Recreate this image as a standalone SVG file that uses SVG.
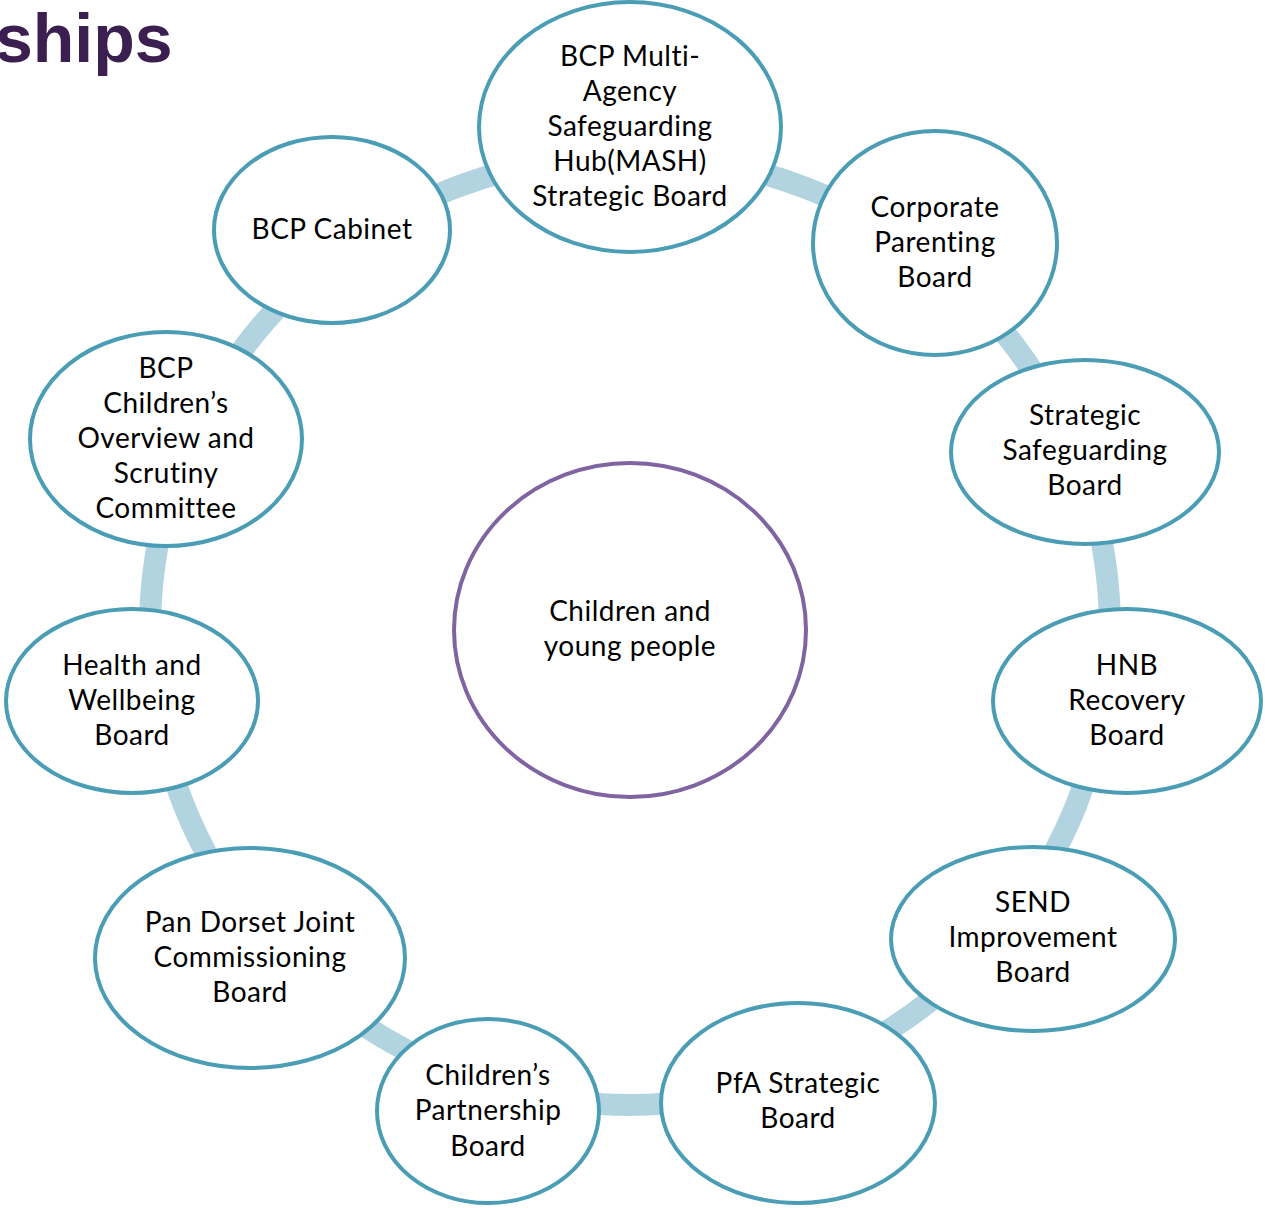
<svg xmlns="http://www.w3.org/2000/svg" width="1265" height="1208" viewBox="0 0 1265 1208">
<style>
.n{fill:#fff;stroke:#4a9db4;stroke-width:4}
.c{fill:#fff;stroke:#8064a2;stroke-width:4}
.t{font-family:Lato,"Liberation Sans",sans-serif;font-size:28px;letter-spacing:0.5px;fill:#000;text-anchor:middle}
.ring{fill:none;stroke:#b1d4e0;stroke-width:22}
.title{font-family:"Liberation Sans",Arial,sans-serif;font-weight:bold;font-size:68px;fill:#3b1f50}
</style>
<rect width="1265" height="1208" fill="#fff"/>
<text class="title" x="-5" y="62">ships</text>
<g id="connectors">
<ellipse class="ring" cx="630" cy="630" rx="480" ry="475"/>
</g>
<g id="center"><ellipse class="c" cx="630" cy="630" rx="176" ry="167"/>
<text class="t" x="630" y="621">Children and</text><text class="t" x="630" y="656">young people</text></g>
<g id="mash"><ellipse class="n" cx="630" cy="127" rx="151" ry="125"/>
<text class="t" x="630" y="66">BCP Multi-</text><text class="t" x="630" y="101">Agency</text><text class="t" x="630" y="136">Safeguarding</text><text class="t" x="630" y="171">Hub(MASH)</text><text class="t" x="630" y="206">Strategic Board</text></g>
<g id="corporate"><ellipse class="n" cx="935" cy="243" rx="122" ry="112"/>
<text class="t" x="935" y="217">Corporate</text><text class="t" x="935" y="252">Parenting</text><text class="t" x="935" y="287">Board</text></g>
<g id="strategic"><ellipse class="n" cx="1085" cy="452" rx="134" ry="92"/>
<text class="t" x="1085" y="425">Strategic</text><text class="t" x="1085" y="460">Safeguarding</text><text class="t" x="1085" y="495">Board</text></g>
<g id="hnb"><ellipse class="n" cx="1127" cy="701" rx="134" ry="92"/>
<text class="t" x="1127" y="675">HNB</text><text class="t" x="1127" y="710">Recovery</text><text class="t" x="1127" y="745">Board</text></g>
<g id="send"><ellipse class="n" cx="1033" cy="939" rx="142" ry="92"/>
<text class="t" x="1033" y="912">SEND</text><text class="t" x="1033" y="947">Improvement</text><text class="t" x="1033" y="982">Board</text></g>
<g id="pfa"><ellipse class="n" cx="798" cy="1103" rx="137" ry="100"/>
<text class="t" x="798" y="1093">PfA Strategic</text><text class="t" x="798" y="1128">Board</text></g>
<g id="partnership"><ellipse class="n" cx="488" cy="1111" rx="111" ry="92"/>
<text class="t" x="488" y="1085">Children’s</text><text class="t" x="488" y="1120">Partnership</text><text class="t" x="488" y="1156">Board</text></g>
<g id="pandorset"><ellipse class="n" cx="250" cy="958" rx="155" ry="110"/>
<text class="t" x="250" y="932">Pan Dorset Joint</text><text class="t" x="250" y="967">Commissioning</text><text class="t" x="250" y="1002">Board</text></g>
<g id="health"><ellipse class="n" cx="132" cy="701" rx="126" ry="92"/>
<text class="t" x="132" y="675">Health and</text><text class="t" x="132" y="710">Wellbeing</text><text class="t" x="132" y="745">Board</text></g>
<g id="overview"><ellipse class="n" cx="166" cy="439" rx="136" ry="107"/>
<text class="t" x="166" y="378">BCP</text><text class="t" x="166" y="413">Children’s</text><text class="t" x="166" y="448">Overview and</text><text class="t" x="166" y="483">Scrutiny</text><text class="t" x="166" y="518">Committee</text></g>
<g id="cabinet"><ellipse class="n" cx="332" cy="230" rx="118" ry="93"/>
<text class="t" x="332" y="239">BCP Cabinet</text></g>
</svg>
